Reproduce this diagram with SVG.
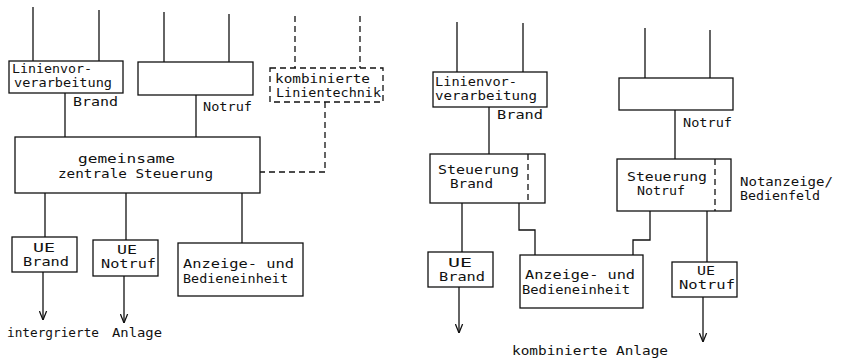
<svg xmlns="http://www.w3.org/2000/svg" width="841" height="361" viewBox="0 0 841 361">
<style>
.b{fill:none;stroke:#111;stroke-width:1.3}
.d{fill:none;stroke:#111;stroke-width:1.3;stroke-dasharray:6,4}
.l{fill:none;stroke:#111;stroke-width:1.3}
.a{fill:none;stroke:#111;stroke-width:1.3;marker-end:url(#arr)}
text{font-family:"DejaVu Sans Mono","Liberation Mono",monospace;font-size:12px;fill:#111}
</style>
<defs>
<marker id="arr" viewBox="0 0 10 10" refX="10" refY="5" markerWidth="9" markerHeight="9" markerUnits="userSpaceOnUse" orient="auto">
<path d="M0,1 L10,5 L0,9" fill="none" stroke="#111" stroke-width="1.4"/>
</marker>
</defs>
<rect width="841" height="361" fill="#fff"/>

<!-- LEFT: integrierte Anlage -->
<g id="l-linien">
<rect class="b" x="9" y="61" width="114" height="32"/>
<text x="12" y="73" textLength="80" lengthAdjust="spacingAndGlyphs">Linienvor-</text>
<text x="14" y="87" textLength="98" lengthAdjust="spacingAndGlyphs">verarbeitung</text>
<text x="73" y="106" textLength="45" lengthAdjust="spacingAndGlyphs">Brand</text>
</g>
<g id="l-notruf">
<rect class="b" x="138" y="62" width="115" height="33"/>
<text x="203" y="111" textLength="49" lengthAdjust="spacingAndGlyphs">Notruf</text>
</g>
<g id="l-kombi">
<rect class="d" x="270" y="68" width="113" height="34"/>
<text x="275" y="83" textLength="95" lengthAdjust="spacingAndGlyphs">kombinierte</text>
<text x="276" y="97" textLength="105" lengthAdjust="spacingAndGlyphs">Linientechnik</text>
</g>
<g id="l-zentral">
<rect class="b" x="15" y="137" width="245" height="56"/>
<text x="78" y="163" textLength="97" lengthAdjust="spacingAndGlyphs">gemeinsame</text>
<text x="58" y="178" textLength="155" lengthAdjust="spacingAndGlyphs">zentrale Steuerung</text>
</g>
<g id="l-ue-brand">
<rect class="b" x="12" y="237" width="65" height="35"/>
<text x="33" y="252" textLength="22" lengthAdjust="spacingAndGlyphs">UE</text>
<text x="23" y="266" textLength="46" lengthAdjust="spacingAndGlyphs">Brand</text>
</g>
<g id="l-ue-notruf">
<rect class="b" x="93" y="240" width="65" height="36"/>
<text x="117" y="254" textLength="20" lengthAdjust="spacingAndGlyphs">UE</text>
<text x="101" y="268" textLength="55" lengthAdjust="spacingAndGlyphs">Notruf</text>
</g>
<g id="l-anzeige">
<rect class="b" x="178" y="243" width="125" height="53"/>
<text x="183" y="268" textLength="111" lengthAdjust="spacingAndGlyphs">Anzeige-  und</text>
<text x="183" y="283" textLength="105" lengthAdjust="spacingAndGlyphs">Bedieneinheit</text>
</g>
<g id="l-caption">
<text x="7" y="337" textLength="92" lengthAdjust="spacingAndGlyphs">intergrierte</text>
<text x="112" y="337" textLength="50" lengthAdjust="spacingAndGlyphs">Anlage</text>
</g>

<!-- RIGHT: kombinierte Anlage -->
<g id="r-linien">
<rect class="b" x="433" y="72" width="114" height="35"/>
<text x="435" y="86" textLength="82" lengthAdjust="spacingAndGlyphs">Linienvor-</text>
<text x="435" y="100" textLength="102" lengthAdjust="spacingAndGlyphs">verarbeitung</text>
<text x="497" y="119" textLength="46" lengthAdjust="spacingAndGlyphs">Brand</text>
</g>
<g id="r-notruf">
<rect class="b" x="619" y="78" width="114" height="32"/>
<text x="683" y="127" textLength="49" lengthAdjust="spacingAndGlyphs">Notruf</text>
</g>
<g id="r-st-brand">
<rect class="b" x="430" y="154" width="115" height="49"/>
<line class="d" x1="528" y1="154" x2="528" y2="203"/>
<text x="438" y="174" textLength="81" lengthAdjust="spacingAndGlyphs">Steuerung</text>
<text x="450" y="188" textLength="43" lengthAdjust="spacingAndGlyphs">Brand</text>
</g>
<g id="r-st-notruf">
<rect class="b" x="617" y="159" width="114" height="52"/>
<line class="d" x1="715" y1="159" x2="715" y2="211"/>
<text x="627" y="181" textLength="80" lengthAdjust="spacingAndGlyphs">Steuerung</text>
<text x="637" y="195" textLength="48" lengthAdjust="spacingAndGlyphs">Notruf</text>
<text x="740" y="186" textLength="93" lengthAdjust="spacingAndGlyphs">Notanzeige/</text>
<text x="740" y="200" textLength="80" lengthAdjust="spacingAndGlyphs">Bedienfeld</text>
</g>
<g id="r-ue-brand">
<rect class="b" x="428" y="252" width="65" height="35"/>
<text x="448" y="267" textLength="24" lengthAdjust="spacingAndGlyphs">UE</text>
<text x="439" y="281" textLength="46" lengthAdjust="spacingAndGlyphs">Brand</text>
</g>
<g id="r-anzeige">
<rect class="b" x="520" y="255" width="123" height="53"/>
<text x="525" y="279" textLength="110" lengthAdjust="spacingAndGlyphs">Anzeige-  und</text>
<text x="522" y="294" textLength="108" lengthAdjust="spacingAndGlyphs">Bedieneinheit</text>
</g>
<g id="r-ue-notruf">
<rect class="b" x="672" y="262" width="65" height="35"/>
<text x="697" y="275" textLength="18" lengthAdjust="spacingAndGlyphs">UE</text>
<text x="679" y="289" textLength="56" lengthAdjust="spacingAndGlyphs">Notruf</text>
</g>
<g id="r-caption">
<text x="512" y="355" textLength="156" lengthAdjust="spacingAndGlyphs">kombinierte Anlage</text>
</g>

<g id="connectors">
<line class="l" x1="33" y1="7" x2="33" y2="61"/>
<line class="l" x1="99" y1="10" x2="99" y2="61"/>
<line class="l" x1="164" y1="12" x2="164" y2="62"/>
<line class="l" x1="229" y1="14" x2="229" y2="62"/>
<line class="d" x1="295" y1="16" x2="295" y2="68"/>
<line class="d" x1="360" y1="16" x2="360" y2="68"/>
<line class="l" x1="65" y1="93" x2="65" y2="137"/>
<line class="l" x1="196" y1="95" x2="196" y2="137"/>
<polyline class="d" points="325,102 325,172 260,172"/>
<line class="l" x1="45" y1="193" x2="45" y2="237"/>
<line class="l" x1="126" y1="193" x2="126" y2="240"/>
<line class="l" x1="242" y1="193" x2="242" y2="243"/>
<line class="a" x1="43" y1="272" x2="43" y2="320"/>
<line class="a" x1="124" y1="276" x2="124" y2="323"/>

<line class="l" x1="457" y1="22" x2="457" y2="72"/>
<line class="l" x1="523" y1="23" x2="523" y2="72"/>
<line class="l" x1="645" y1="28" x2="645" y2="78"/>
<line class="l" x1="710" y1="30" x2="710" y2="78"/>
<line class="l" x1="489" y1="107" x2="489" y2="154"/>
<line class="l" x1="675" y1="110" x2="675" y2="159"/>
<line class="l" x1="462" y1="203" x2="462" y2="252"/>
<polyline class="l" points="519,203 519,230 535,230 535,255"/>
<polyline class="l" points="650,211 650,240 633,240 633,255"/>
<line class="l" x1="707" y1="211" x2="707" y2="262"/>
<line class="a" x1="459" y1="287" x2="459" y2="333"/>
<line class="a" x1="703" y1="297" x2="703" y2="342"/>
</g>
</svg>
